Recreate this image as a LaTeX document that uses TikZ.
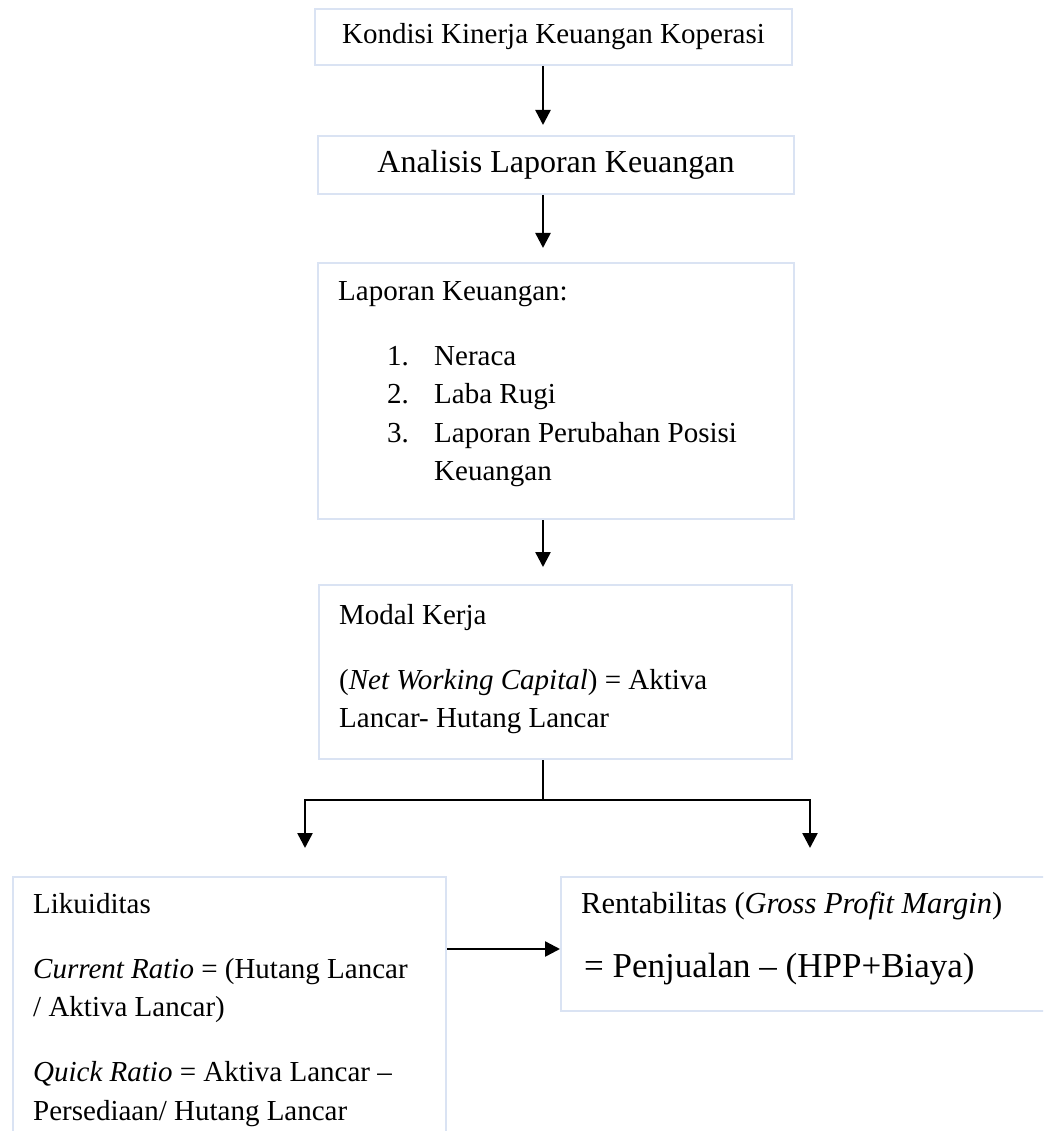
\documentclass[tikz,border=0pt]{standalone}
\usepackage{fontspec}
\setmainfont{Liberation Serif}
\usetikzlibrary{positioning,arrows.meta}

\definecolor{garisbiru}{RGB}{218,227,243}
\newcommand{\hurufisi}{\fontsize{29}{38.5}\selectfont}
\newcommand{\hurufbesar}{\fontsize{32}{40}\selectfont}
\newcommand{\barispertama}{\rule{0pt}{24pt}}

\tikzset{
  kotak/.style={draw=garisbiru, line width=2pt, inner sep=0pt, anchor=north west},
  isi/.style={inner sep=0pt, anchor=north west, align=left, font=\hurufisi},
  panah/.style={line width=2.5pt, -{Triangle[width=15pt,length=15pt]}},
}

\begin{document}
\begin{tikzpicture}[x=1pt,y=-1pt]
    \useasboundingbox (0,0) rectangle (1043,1131);
    \clip (0,0) rectangle (1043,1131);

    % kotak
    \node[kotak, minimum width=477pt, minimum height=56pt, font=\hurufisi] (kondisi) at (314,8) {Kondisi Kinerja Keuangan Koperasi};
    \node[kotak, minimum width=476pt, minimum height=58pt, font=\hurufbesar] (analisis) at (317,135) {Analisis Laporan Keuangan};
    \node[kotak, minimum width=476pt, minimum height=256pt] (laporan) at (317,262) {};
    \node[kotak, minimum width=473pt, minimum height=174pt] (modal) at (318,584) {};
    \node[kotak, minimum width=433pt, minimum height=280pt] (likuid) at (12,876) {};
    \node[kotak, minimum width=500pt, minimum height=134pt] (rentab) at (560,876) {};

    % isi kotak
    \node[isi, below right=14pt and 21pt of laporan.north west] (isilaporan) {\barispertama Laporan Keuangan:\\[26.5pt]
        \hspace*{49pt}\makebox[47pt][l]{1.}Neraca\\
        \hspace*{49pt}\makebox[47pt][l]{2.}Laba Rugi\\
        \hspace*{49pt}\makebox[47pt][l]{3.}Laporan Perubahan Posisi\\
        \hspace*{96pt}Keuangan};
    \node[isi, below right=16pt and 21pt of modal.north west] (isimodal) {\barispertama Modal Kerja\\[26.5pt]
        (\textit{Net Working Capital}) = Aktiva\\
        Lancar- Hutang Lancar};
    \node[isi, below right=13pt and 21pt of likuid.north west] (isilikuid) {\barispertama Likuiditas\\[26.5pt]
        \textit{Current Ratio} = (Hutang Lancar\\
        / Aktiva Lancar)\\[26.5pt]
        \textit{Quick Ratio} = Aktiva Lancar –\\
        Persediaan/ Hutang Lancar};
    \node[inner sep=0pt, anchor=base west, font=\fontsize{30.5}{36}\selectfont] (isirentab) at ([shift={(21pt,-37pt)}]rentab.north west) {Rentabilitas (\textit{Gross Profit Margin})};
    \node[inner sep=0pt, anchor=base west, font=\fontsize{35}{40}\selectfont] (rumus) at ([shift={(24pt,-101pt)}]rentab.north west) {= Penjualan – (HPP+Biaya)};

    % panah
    \coordinate (cabang) at (543,800);
    \coordinate (kiri) at (305,800);
    \coordinate (kanan) at (810,800);
    \draw[panah, shorten >=10pt] (kondisi.south -| cabang) -- (analisis.north -| cabang);
    \draw[panah, shorten >=14pt] (analisis.south -| cabang) -- (laporan.north -| cabang);
    \draw[panah, shorten >=17pt] (laporan.south -| cabang) -- (modal.north -| cabang);
    \draw[line width=1.2pt] (modal.south -| cabang) -- (cabang);
    \draw[panah, shorten >=28pt] (cabang) -| (likuid.north -| kiri);
    \draw[panah, shorten >=28pt] (cabang) -| (rentab.north -| kanan);
    \draw[panah] ([yshift=-73pt]likuid.north east) -- ([yshift=-73pt]rentab.north west);
\end{tikzpicture}
\end{document}
